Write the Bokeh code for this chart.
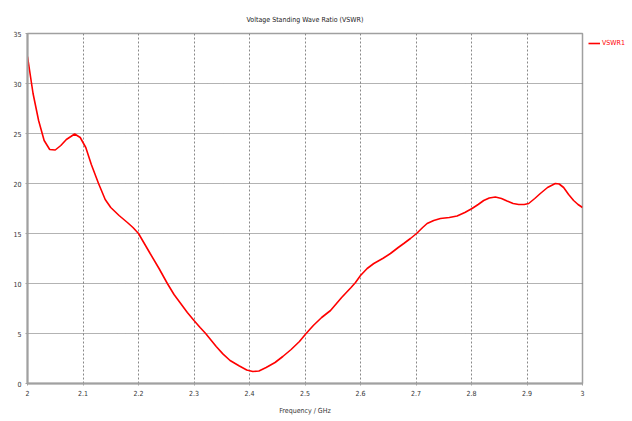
from bokeh.plotting import figure
from bokeh.models import Legend, LegendItem, FixedTicker, Range1d
from bokeh.embed import file_html
from bokeh.resources import INLINE

freq = [2.000, 2.010, 2.020, 2.030, 2.040, 2.050, 2.060, 2.070, 2.085, 2.095,
        2.105, 2.115, 2.128, 2.140, 2.150, 2.165, 2.180, 2.190, 2.200, 2.221,
        2.237, 2.252, 2.264, 2.276, 2.288, 2.300, 2.311, 2.321, 2.340, 2.352,
        2.365, 2.381, 2.395, 2.406, 2.417, 2.430, 2.446, 2.460, 2.475, 2.490,
        2.502, 2.515, 2.530, 2.546, 2.566, 2.583, 2.591, 2.600, 2.612, 2.624,
        2.640, 2.654, 2.668, 2.678, 2.690, 2.701, 2.712, 2.720, 2.732, 2.744,
        2.760, 2.774, 2.788, 2.801, 2.812, 2.822, 2.832, 2.843, 2.854, 2.864,
        2.875, 2.885, 2.895, 2.903, 2.914, 2.924, 2.937, 2.951, 2.958, 2.966,
        2.975, 2.984, 2.992, 3.000]
vswr = [32.7, 29.0, 26.3, 24.3, 23.4, 23.35, 23.8, 24.4, 24.95, 24.6,
        23.6, 21.9, 20.0, 18.4, 17.6, 16.8, 16.1, 15.6, 15.0, 13.0,
        11.5, 10.0, 8.9, 8.0, 7.1, 6.3, 5.6, 5.0, 3.7, 2.96,
        2.3, 1.77, 1.35, 1.2, 1.25, 1.6, 2.1, 2.7, 3.4, 4.2,
        5.0, 5.8, 6.6, 7.3, 8.6, 9.6, 10.1, 10.8, 11.5, 12.0,
        12.5, 13.0, 13.6, 14.0, 14.5, 15.0, 15.6, 16.0, 16.3, 16.5,
        16.6, 16.75, 17.1, 17.5, 17.9, 18.3, 18.55, 18.65, 18.5, 18.25,
        18.0, 17.9, 17.9, 18.0, 18.5, 19.0, 19.6, 20.0, 19.95, 19.6,
        18.9, 18.3, 17.9, 17.6]

x_ticks = [2.0, 2.1, 2.2, 2.3, 2.4, 2.5, 2.6, 2.7, 2.8, 2.9, 3.0]
x_tick_labels = ["2", "2.1", "2.2", "2.3", "2.4", "2.5", "2.6", "2.7", "2.8", "2.9", "3"]
y_ticks = [0, 5, 10, 15, 20, 25, 30, 35]

FONT = "DejaVu Sans Condensed, Liberation Sans, sans-serif"

p = figure(frame_width=555, frame_height=350, output_backend="svg", toolbar_location=None,
           x_range=Range1d(2.0, 3.0), y_range=Range1d(0, 35),
           min_border_left=27, min_border_right=0, min_border_top=33, min_border_bottom=38)

p.title.text = "Voltage Standing Wave Ratio (VSWR)"
p.title.align = "center"
p.title.text_font = FONT
p.title.text_font_size = "7px"
p.title.text_font_style = "normal"
p.title.text_color = "#222222"
p.title.standoff = 20

r = p.line(freq, vswr, line_color="#ff0000", line_width=1.6)

p.xaxis.ticker = FixedTicker(ticks=x_ticks)
p.xaxis.major_label_overrides = {t: l for t, l in zip(x_ticks, x_tick_labels)}
p.yaxis.ticker = FixedTicker(ticks=y_ticks)
p.xaxis.axis_label = "Frequency / GHz"
for ax in (p.xaxis, p.yaxis):
    ax.axis_line_color = "#a0a0a0"
    ax.axis_line_width = 2
    ax.major_tick_line_color = "#a0a0a0"
    ax.major_tick_out = 2
    ax.major_tick_in = 0
    ax.minor_tick_line_color = None
    ax.major_label_text_font = FONT
    ax.major_label_text_font_size = "7px"
    ax.major_label_text_color = "#333333"
    ax.major_label_standoff = 4
    ax.axis_label_text_font = FONT
    ax.axis_label_text_font_size = "7px"
    ax.axis_label_text_font_style = "normal"
    ax.axis_label_text_color = "#333333"
p.xaxis.axis_label_standoff = 8

p.xgrid.grid_line_color = "#888888"
p.ygrid.grid_line_color = "#666666"
p.xgrid.grid_line_dash = "2 2"
p.ygrid.grid_line_dash = "1 1"
p.xgrid.grid_line_width = 1
p.ygrid.grid_line_width = 1

p.outline_line_color = "#a0a0a0"
p.outline_line_width = 1.5
p.background_fill_color = "white"
p.border_fill_color = "white"

legend = Legend(items=[LegendItem(label="VSWR1", renderers=[r])],
                location="top_left", orientation="vertical",
                glyph_width=12, glyph_height=8, label_standoff=2,
                padding=0, margin=6, spacing=0,
                label_text_font=FONT, label_text_font_size="7px",
                label_text_color="#ff0000", border_line_color=None,
                background_fill_alpha=0, label_height=8)
p.add_layout(legend, "right")

open("out.html", "w").write(file_html(p, INLINE))
